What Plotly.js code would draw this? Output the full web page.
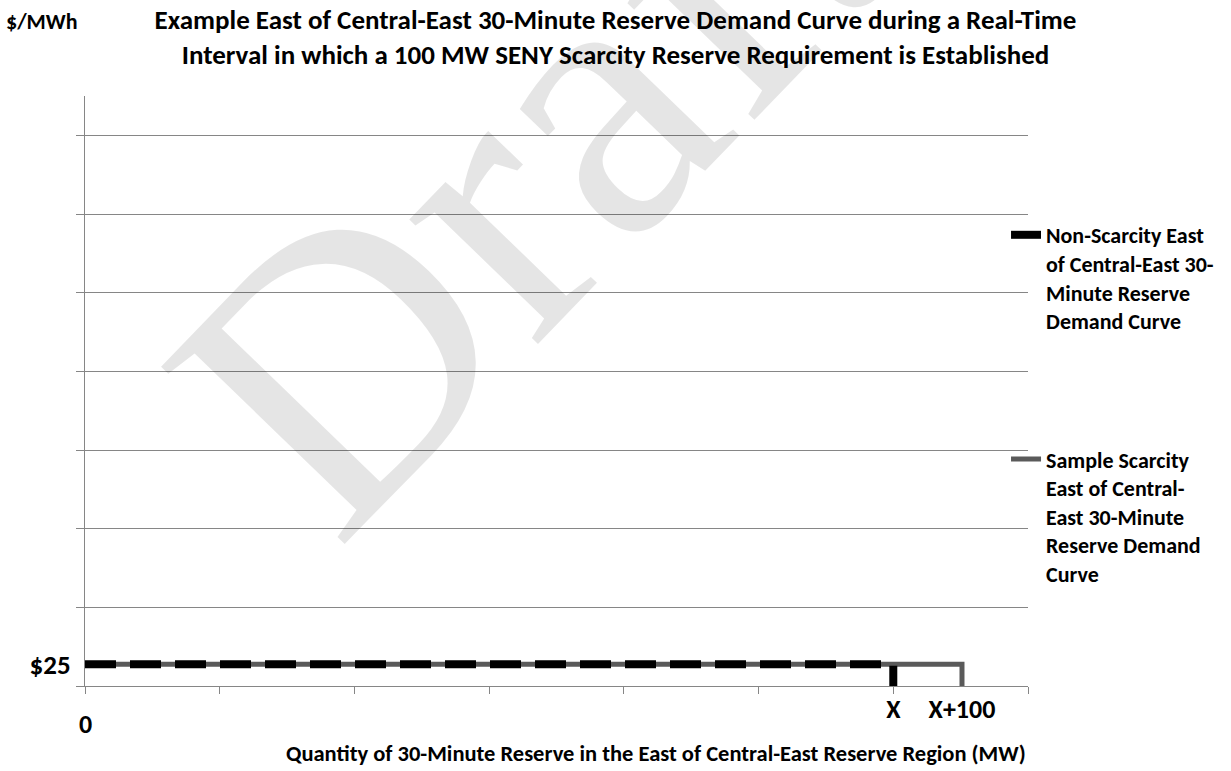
<!DOCTYPE html>
<html>
<head>
<meta charset="utf-8">
<script src="https://cdn.plot.ly/plotly-3.0.1.min.js"></script>
<style>html,body{margin:0;padding:0;background:#fff;}#chart{width:1231px;height:771px;}</style>
</head>
<body>
<div id="chart"></div>
<script>
// Schematic quantities (X = 600 units, X+100 = 651 units on the drawn scale)
const nonScarcityX = [0, 600, 600];
const nonScarcityY = [25, 25, 0];
const scarcityX = [0, 651, 651];
const scarcityY = [25, 25, 0];
const xTickVals = [600, 651];
const xTickText = ['X', 'X+100'];
const originLabel = '0';
const yTickVals = [25];
const yTickText = ['$25'];
const nonScarcityName = 'Non-Scarcity East<br>of Central-East 30-<br>Minute Reserve<br>Demand Curve';
const scarcityName = 'Sample Scarcity<br>East of Central-<br>East 30-Minute<br>Reserve Demand<br>Curve';

const FONT = "Carlito, 'Liberation Sans Narrow', 'Liberation Sans', Arial, sans-serif";

const traces = [
  {x: scarcityX, y: scarcityY, mode: 'lines', name: scarcityName, legend: 'legend2',
   line: {color: '#5a5a5a', width: 5}},
  {x: nonScarcityX, y: nonScarcityY, mode: 'lines', name: nonScarcityName, legend: 'legend',
   line: {color: '#000000', width: 8, dash: '31px,14px'}}
];

const layout = {
  width: 1231, height: 771,
  margin: {l: 85, r: 201, t: 96, b: 85},
  paper_bgcolor: '#fff', plot_bgcolor: '#fff',
  font: {family: FONT, color: '#000', size: 16, weight: 'bold'},
  showlegend: true,
  title: {
    text: '<b>Example East of Central-East 30-Minute Reserve Demand Curve during a Real-Time<br>Interval in which a 100 MW SENY Scarcity Reserve Requirement is Established</b>',
    x: 0.5, xanchor: 'center', y: 0.9626, yanchor: 'top',
    font: {family: FONT, size: 27, color: '#000', weight: 'bold'}
  },
  xaxis: {
    range: [0, 700], showgrid: false, zeroline: false,
    showline: true, linecolor: '#868686', linewidth: 1,
    tickmode: 'array', tickvals: xTickVals, ticktext: xTickText,
    ticks: '',
    tickfont: {family: FONT, size: 26, color: '#000', weight: 'bold'},
    minor: {dtick: 100, tick0: 0, ticks: 'outside', ticklen: 7, tickcolor: '#868686', showgrid: false},
    fixedrange: true
  },
  yaxis: {
    range: [0, 675], showgrid: false, zeroline: false,
    showline: true, linecolor: '#868686', linewidth: 1,
    tickmode: 'array', tickvals: yTickVals, ticktext: yTickText,
    ticks: 'outside', ticklen: 8, tickcolor: 'rgba(0,0,0,0)',
    tickfont: {family: FONT, size: 27, color: '#000', weight: 'bold'},
    minor: {dtick: 90, tick0: 0, ticks: 'outside', ticklen: 8, tickcolor: '#868686',
            showgrid: true, gridcolor: '#868686', gridwidth: 1},
    fixedrange: true
  },
  legend: {
    x: 0.9767, xanchor: 'left', y: 0.80, yanchor: 'top', xref: 'paper', yref: 'paper',
    valign: 'top', bgcolor: 'rgba(0,0,0,0)', font: {family: FONT, size: 22, color: '#000', weight: 'bold'},
    itemwidth: 30
  },
  legend2: {
    x: 0.9767, xanchor: 'left', y: 0.42, yanchor: 'top', xref: 'paper', yref: 'paper',
    valign: 'top', bgcolor: 'rgba(0,0,0,0)', font: {family: FONT, size: 22, color: '#000', weight: 'bold'},
    itemwidth: 30
  },
  annotations: [
    {text: 'Draft', xref: 'paper', yref: 'paper', x: 0.47, y: 0.885,
     xanchor: 'center', yanchor: 'middle', showarrow: false, textangle: -46,
     font: {family: "'Liberation Serif', 'DejaVu Serif', serif", size: 390, color: 'rgba(0,0,0,0.1)', weight: 'normal'}},
    {text: '<b>$/MWh</b>', xref: 'paper', yref: 'paper', x: -0.0857, y: 1.127,
     xanchor: 'left', yanchor: 'middle', showarrow: false,
     font: {family: FONT, size: 22, color: '#000'}},
    {text: '<b>' + originLabel + '</b>', xref: 'x', yref: 'paper', x: 0, y: -0.065,
     xanchor: 'center', yanchor: 'middle', showarrow: false,
     font: {family: FONT, size: 26, color: '#000'}},
    {text: '<b>Quantity of 30-Minute Reserve in the East of Central-East Reserve Region (MW)</b>',
     xref: 'paper', yref: 'paper', x: 0.605, y: -0.115,
     xanchor: 'center', yanchor: 'middle', showarrow: false,
     font: {family: FONT, size: 22.5, color: '#000'}}
  ]
};

Plotly.newPlot('chart', traces, layout, {displayModeBar: false, staticPlot: true});
</script>
</body>
</html>
